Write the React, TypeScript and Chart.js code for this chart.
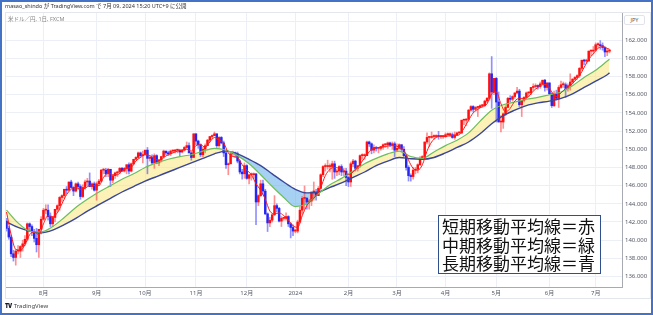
import { useEffect, useRef } from 'react';
import { Chart, registerables } from 'chart.js';

Chart.register(...registerables);

// ---------- data (USD/JPY daily, FXCM) ----------
const START_DATE = '2023-07-10';
const FIRST_OPEN = 142.1;

const closes = [
  141.3, 140.35, 138.5, 138.1, 138.8, 138.8, 139.3, 139.6, 140.1, 141.8, 141.5, 140.9, 140.2, 139.5, 141.2, 142.3,
  143.3, 143.3, 142.6, 141.8, 142.5, 143.4, 143.8, 144.7, 144.9, 145.6, 145.5, 146.4, 145.8, 145.4, 146.2, 145.9, 144.8, 145.8, 146.4, 146.5, 145.9, 146.2, 145.5,
  146.2, 146.5, 147.7, 147.7, 147.3, 147.8, 146.6, 147.1, 147.4, 147.5, 147.9, 147.6, 147.9, 148.3, 147.6, 148.4, 148.9, 149.1, 149.6, 149.3, 149.4,
  149.9, 149.0, 149.1, 148.5, 149.3, 148.5, 148.8, 149.2, 149.8, 149.6, 149.5, 149.8, 149.8, 149.9, 149.9, 149.7, 149.9, 150.2, 150.4, 149.6, 149.1, 151.7,
  150.9, 150.5, 149.4, 150.0, 150.4, 151.0, 151.4, 151.5, 151.7, 150.4, 151.3, 150.7, 149.6, 148.3, 148.4, 149.5, 149.6, 149.5, 148.7, 147.5, 147.3, 148.2,
  146.8, 147.2, 147.2, 147.3, 144.2, 144.9, 146.2, 145.4, 142.9, 141.9, 142.2, 142.8, 143.8, 143.5, 142.1, 142.4, 142.4, 142.6, 141.8, 141.4, 141.0,
  141.0, 142.0, 143.3, 144.6, 144.6, 144.2, 144.3, 145.3, 145.3, 144.9, 145.7, 147.2, 148.1, 148.1, 148.1, 148.1, 148.4, 147.5, 147.6, 148.1, 147.5, 147.6, 146.9,
  146.4, 148.4, 148.7, 147.9, 148.2, 149.3, 149.3, 149.3, 150.8, 150.6, 149.9, 150.2, 150.1, 150.1, 150.3, 150.5, 150.5, 150.7, 150.5, 150.6, 149.9,
  150.1, 150.5, 150.0, 149.3, 148.0, 147.1, 147.0, 147.7, 147.8, 148.3, 149.0, 149.2, 150.8, 151.3, 151.3, 151.4, 151.4, 151.5, 151.4, 151.4, 151.4,
  151.6, 151.6, 151.6, 151.3, 151.6, 151.8, 151.8, 153.2, 153.2, 153.3, 154.3, 154.7, 154.4, 154.6, 154.6, 154.8, 154.8, 155.3, 155.6, 158.3, 156.3, 157.8,
  155.2, 153.0, 153.0, 153.9, 154.6, 155.6, 155.5, 155.8, 156.2, 156.4, 154.9, 155.4, 155.7, 156.2, 156.2, 156.8, 156.9, 157.0, 156.9, 157.2, 157.6, 156.8, 157.3,
  156.1, 154.8, 156.1, 155.6, 156.8, 157.1, 157.1, 156.7, 157.0, 157.4, 157.7, 157.9, 158.1, 158.9, 159.8, 159.7, 159.7, 160.8, 160.8, 160.9,
  161.5, 161.5, 161.4, 161.2, 160.7, 160.8, 160.9,
];

const highs = [
  142.4, 141.5, 140.6, 138.9, 139.0, 139.4, 139.4, 140.0, 140.5, 141.9, 141.9, 141.7, 141.2, 141.3, 141.2, 142.6,
  143.5, 143.9, 143.9, 143.0, 142.6, 143.4, 143.9, 144.8, 145.0, 145.6, 145.9, 146.4, 146.6, 145.9, 146.3, 146.4, 146.1, 146.1, 146.6, 146.8, 147.4, 146.3, 146.4,
  146.4, 146.7, 147.8, 147.9, 147.9, 147.9, 147.8, 147.1, 147.5, 147.6, 148.0, 148.0, 148.0, 148.3, 148.5, 148.5, 148.9, 149.2, 149.7, 149.7, 149.8,
  149.9, 150.2, 149.3, 149.4, 149.5, 149.4, 148.9, 149.2, 149.9, 149.8, 149.8, 149.9, 149.9, 150.0, 150.0, 150.0, 150.0, 150.3, 150.8, 150.7, 149.7, 151.7,
  151.7, 151.0, 150.6, 150.2, 150.6, 151.1, 151.4, 151.6, 151.9, 151.7, 151.4, 151.4, 150.9, 149.7, 148.5, 149.6, 149.8, 149.7, 149.7, 148.8, 147.8, 148.5,
  148.3, 147.2, 147.4, 147.4, 147.3, 145.0, 146.6, 146.6, 145.6, 143.0, 142.5, 142.8, 144.9, 144.0, 143.6, 142.6, 142.5, 143.0, 142.7, 141.9, 141.7,
  141.2, 142.2, 143.7, 144.8, 145.97, 144.7, 144.5, 145.3, 146.4, 145.6, 145.9, 147.3, 148.2, 148.4, 148.8, 148.4, 148.7, 148.7, 147.8, 148.2, 148.3, 147.9, 147.9,
  147.0, 148.6, 148.9, 148.8, 148.2, 149.4, 149.5, 149.5, 150.9, 150.9, 150.7, 150.5, 150.3, 150.2, 150.3, 150.6, 150.6, 150.8, 150.8, 150.8, 150.8,
  150.6, 150.6, 150.5, 150.3, 149.4, 148.2, 147.3, 148.0, 148.0, 148.4, 149.2, 149.3, 150.8, 151.8, 151.4, 151.9, 151.6, 151.6, 151.97, 151.5, 151.5,
  151.8, 151.8, 151.8, 151.8, 151.9, 151.9, 151.9, 153.2, 153.3, 153.4, 154.4, 154.8, 154.8, 154.7, 154.7, 154.9, 154.9, 155.4, 155.7, 158.4, 160.2, 157.8,
  157.9, 156.3, 153.7, 154.0, 154.8, 155.7, 155.9, 155.9, 156.2, 156.8, 156.6, 155.4, 155.8, 156.3, 156.3, 156.8, 157.2, 157.2, 157.1, 157.4, 157.6, 157.7, 157.3,
  157.3, 156.2, 156.4, 156.5, 157.0, 157.5, 157.4, 157.3, 157.2, 158.3, 157.8, 158.0, 158.2, 159.0, 159.8, 159.9, 159.9, 160.8, 160.9, 161.3,
  161.7, 161.7, 161.95, 161.7, 161.3, 161.1, 161.0,
];

const lows = [
  141.0, 140.1, 138.2, 137.7, 137.25, 138.5, 138.1, 138.8, 139.4, 139.9, 141.0, 140.5, 139.8, 138.7, 138.1, 140.7,
  142.2, 142.9, 142.2, 141.5, 141.5, 142.0, 143.1, 143.3, 144.2, 144.6, 145.1, 145.4, 145.7, 144.9, 145.3, 145.6, 144.5, 144.7, 145.6, 146.0, 145.9, 145.6, 145.4,
  144.4, 146.0, 146.4, 147.3, 147.0, 147.0, 145.9, 146.3, 146.8, 147.0, 147.3, 147.6, 147.5, 147.3, 147.3, 147.5, 148.3, 148.8, 149.0, 149.1, 148.5,
  149.4, 147.3, 148.7, 148.4, 147.9, 148.4, 148.2, 148.6, 149.0, 149.4, 149.3, 149.3, 149.6, 149.6, 149.6, 149.3, 149.6, 149.8, 150.1, 149.6, 148.8, 149.1,
  150.5, 150.1, 149.2, 149.2, 149.6, 150.4, 150.8, 151.2, 151.5, 150.2, 150.2, 150.6, 149.2, 147.9, 147.2, 148.4, 149.3, 149.1, 148.5, 147.3, 146.7, 146.8,
  146.7, 146.2, 146.6, 146.8, 141.7, 143.8, 144.8, 145.0, 142.8, 140.95, 141.5, 142.0, 142.7, 143.1, 142.0, 141.5, 142.2, 142.2, 141.5, 140.25, 140.5,
  140.8, 140.8, 141.9, 142.9, 143.4, 143.4, 143.4, 143.8, 144.4, 144.4, 144.9, 145.6, 147.0, 147.6, 147.8, 147.5, 146.7, 146.8, 147.1, 147.2, 147.1, 147.1, 146.0,
  145.9, 145.9, 148.1, 147.6, 147.6, 148.0, 148.9, 148.9, 149.3, 150.3, 149.5, 149.6, 149.8, 149.6, 149.9, 150.0, 150.2, 150.1, 150.3, 150.0, 149.2,
  149.9, 150.0, 149.7, 149.2, 147.7, 146.5, 146.5, 146.7, 147.3, 147.4, 148.2, 148.9, 149.2, 150.6, 150.3, 151.2, 151.1, 151.3, 151.1, 151.2, 151.2,
  151.3, 151.5, 151.4, 151.2, 151.1, 151.6, 151.7, 151.7, 152.7, 152.6, 153.1, 154.2, 154.1, 154.2, 153.6, 154.6, 154.6, 154.7, 155.1, 155.4, 154.5, 156.0,
  153.0, 153.0, 151.9, 152.3, 153.7, 154.6, 155.2, 155.3, 155.6, 156.1, 154.7, 153.6, 155.2, 155.5, 155.8, 156.0, 156.5, 156.7, 156.6, 156.7, 157.1, 156.4, 156.5,
  156.0, 154.6, 154.7, 155.4, 154.6, 156.7, 156.8, 155.7, 156.4, 156.5, 157.2, 157.6, 157.7, 157.9, 158.7, 159.3, 159.4, 159.7, 160.3, 160.5,
  160.8, 161.2, 161.0, 160.9, 160.2, 160.3, 160.6,
];

const MA_STEP = 5;
const midMA = [
  143.3, 141.9, 141.0, 140.9, 141.5, 142.5, 143.6, 144.5, 145.3, 146.0, 146.7, 147.3, 148.0, 148.5, 148.9, 149.2, 149.4, 149.8,
  150.1, 149.9, 149.3, 148.4, 147.2, 145.9, 144.7, 143.7, 144.0, 145.1, 146.1, 146.8, 147.6, 148.4, 149.0, 149.5, 149.8, 149.2,
  149.0, 149.7, 150.4, 151.0, 151.8, 153.1, 154.3, 154.9, 155.2, 155.5, 155.7, 156.0, 156.3, 157.0, 157.9, 158.7, 159.7, 159.9,
];
const longMA = [
  142.0, 141.4, 141.0, 140.8, 141.1, 141.7, 142.4, 143.2, 143.9, 144.6, 145.3, 145.9, 146.5, 147.0, 147.5, 148.0, 148.5, 149.0,
  149.5, 149.8, 149.5, 148.9, 148.2, 147.3, 146.4, 145.6, 145.2, 145.3, 145.8, 146.3, 146.9, 147.5, 148.2, 148.7, 149.1, 148.95,
  148.9, 149.1, 149.6, 150.2, 150.8, 151.7, 152.8, 153.7, 154.3, 154.8, 155.1, 155.3, 155.6, 156.1, 156.8, 157.5, 158.2, 158.4,
];
const SHORT_STEP = 2;
const shortMA = [
  143.1, 140.6, 139.0, 138.9, 139.5, 140.6, 140.9, 140.6, 141.8, 142.7, 142.6, 143.0, 144.0, 145.0, 145.6, 145.8, 145.6, 145.7,
  146.0, 146.0, 146.0, 146.9, 147.4, 147.2, 147.2, 147.6, 147.9, 148.0, 148.7, 149.1, 149.4, 149.3, 149.0, 148.8, 149.1, 149.4,
  149.6, 149.8, 149.9, 150.0, 149.8, 150.4, 150.5, 150.2, 150.8, 151.3, 151.0, 150.7, 149.6, 149.2, 149.1, 148.3, 147.7, 147.2,
  146.2, 145.5, 144.5, 143.2, 142.9, 143.0, 142.7, 142.2, 141.6, 141.4, 142.7, 143.8, 144.4, 144.9, 145.8, 147.1, 147.8, 148.0,
  147.9, 147.7, 147.2, 147.5, 148.0, 148.7, 149.4, 150.0, 150.2, 150.2, 150.3, 150.4, 150.4, 150.2, 149.9, 148.8, 147.9, 147.7,
  148.3, 149.8, 150.8, 151.3, 151.4, 151.4, 151.5, 151.5, 151.6, 152.3, 153.2, 154.0, 154.4, 154.7, 155.0, 156.1, 156.3, 155.0,
  154.1, 154.5, 155.3, 155.6, 155.6, 155.8, 156.4, 156.8, 157.1, 157.1, 156.3, 155.8, 156.2, 156.7, 157.0, 157.5, 158.1, 159.0,
  159.9, 160.5, 161.1, 161.3, 161.1, 161.0,
];

const monthLabels = ['8月', '9月', '10月', '11月', '12月', '2024', '2月', '3月', '4月', '5月', '6月', '7月'];
const yTicks = [136, 138, 140, 142, 144, 146, 148, 150, 152, 154, 156, 158, 160, 162, 164];

const TITLE = 'masao_shindo が TradingView.com で 7月 09, 2024 15:20 UTC+9 に公開';
const SUBTITLE = '米ドル／円, 1日, FXCM';
const LEGEND_LINES = ['短期移動平均線＝赤', '中期移動平均線＝緑', '長期移動平均線＝青'];

// ---------- helpers ----------
function tradingDates(start: string, n: number): Date[] {
  const out: Date[] = [];
  const d = new Date(start + 'T00:00:00Z');
  while (out.length < n) {
    const wd = d.getUTCDay();
    if (wd !== 0 && wd !== 6) out.push(new Date(d.getTime()));
    d.setUTCDate(d.getUTCDate() + 1);
  }
  return out;
}

function sampled(values: number[], step: number, lastIndex: number) {
  return values.map((v, k) => ({ x: Math.min(k * step, lastIndex), y: v }));
}

const FONT = "'Noto Sans', 'Noto Sans CJK JP', sans-serif";

export default function App() {
  const canvasRef = useRef<HTMLCanvasElement | null>(null);

  useEffect(() => {
    const canvas = canvasRef.current;
    if (!canvas) return;
    const n = closes.length;
    const last = n - 1;
    const dates = tradingDates(START_DATE, n);
    const monthStarts: number[] = [];
    for (let i = 1; i < n; i++) {
      if (dates[i].getUTCMonth() !== dates[i - 1].getUTCMonth()) monthStarts.push(i);
    }
    const opens = closes.map((c, i) => (i === 0 ? FIRST_OPEN : closes[i - 1]));
    const isUp = closes.map((c, i) => c >= opens[i]);

    const wickData = closes.map((c, i) => ({
      x: i,
      y: [Math.min(lows[i], opens[i], c), Math.max(highs[i], opens[i], c)],
    }));
    const bodyData = closes.map((c, i) => ({ x: i, y: [opens[i], c] }));

    const chart = new Chart(canvas, {
      type: 'bar',
      data: {
        datasets: [
          {
            type: 'bar',
            label: 'wick',
            data: wickData as any,
            backgroundColor: isUp.map((u) => (u ? 'rgba(255,70,70,0.6)' : 'rgba(70,70,255,0.6)')),
            barThickness: 1,
            grouped: false,
            order: 4,
          },
          {
            type: 'bar',
            label: 'body',
            data: bodyData as any,
            backgroundColor: isUp.map((u) => (u ? '#FF0F0F' : '#2626F2')),
            barThickness: 1.8,
            minBarLength: 1,
            grouped: false,
            order: 3,
          },
          {
            type: 'line',
            label: 'mid',
            data: sampled(midMA, MA_STEP, last) as any,
            borderColor: '#6DBE5C',
            borderWidth: 1.2,
            pointRadius: 0,
            cubicInterpolationMode: 'monotone',
            fill: { target: 3, above: 'rgba(250,228,110,0.5)', below: 'rgba(95,172,232,0.55)' } as any,
            order: 1,
          },
          {
            type: 'line',
            label: 'long',
            data: sampled(longMA, MA_STEP, last) as any,
            borderColor: '#3A4697',
            borderWidth: 1.4,
            pointRadius: 0,
            cubicInterpolationMode: 'monotone',
            fill: false,
            order: 1,
          },
          {
            type: 'line',
            label: 'short',
            data: sampled(shortMA, SHORT_STEP, last) as any,
            borderColor: '#FF1A1A',
            borderWidth: 1,
            pointRadius: 0,
            cubicInterpolationMode: 'monotone',
            fill: false,
            order: 0,
          },
        ],
      },
      options: {
        animation: false,
        responsive: false,
        devicePixelRatio: 1,
        layout: { padding: { left: 5, top: 12, right: 0, bottom: 16 } },
        plugins: {
          legend: { display: false },
          tooltip: { enabled: false },
          filler: { drawTime: 'beforeDatasetsDraw', propagate: false } as any,
        },
        scales: {
          x: {
            type: 'linear',
            min: -0.65,
            max: 266.4,
            offset: false,
            afterBuildTicks: (s: any) => {
              s.ticks = monthStarts.map((v) => ({ value: v }));
            },
            afterFit: (s: any) => {
              s.height = 12;
            },
            ticks: {
              autoSkip: false,
              maxRotation: 0,
              padding: 3,
              color: '#555a66',
              font: { size: 6, family: FONT },
              callback: (_v: any, idx: number) => monthLabels[idx] ?? '',
            },
            grid: { color: '#ECF0F6', drawTicks: false, offset: false, lineWidth: 1 },
            border: { display: true, color: '#A7AAB3', width: 1 },
          },
          y: {
            type: 'linear',
            position: 'right',
            min: 134.85,
            max: 165.1,
            afterBuildTicks: (s: any) => {
              s.ticks = yTicks.map((v) => ({ value: v }));
            },
            afterFit: (s: any) => {
              s.width = 31;
            },
            ticks: {
              padding: 3,
              color: '#555a66',
              font: { size: 6, family: FONT },
              callback: (v: any) => (Number(v) >= 164 ? '' : Number(v).toFixed(3)),
            },
            grid: { color: '#ECF0F6', drawTicks: false, lineWidth: 1 },
            border: { display: true, color: '#A7AAB3', width: 1 },
          },
        },
      },
    });
    return () => chart.destroy();
  }, []);

  return (
    <div
      style={{
        position: 'absolute',
        left: 0,
        top: 0,
        width: 653,
        height: 315,
        background: '#ffffff',
        overflow: 'hidden',
        fontFamily: FONT,
      }}
    >
      <canvas ref={canvasRef} width={653} height={315} style={{ position: 'absolute', left: 0, top: 0, width: 653, height: 315 }} />
      {/* pane border */}
      <div
        style={{
          position: 'absolute',
          left: 5,
          top: 12,
          width: 646,
          height: 287,
          border: '1px solid #E3E6EC',
          boxSizing: 'border-box',
          pointerEvents: 'none',
        }}
      />
      <div style={{ position: 'absolute', left: 5, top: 2, fontSize: 5.5, lineHeight: '8px', color: '#333', whiteSpace: 'nowrap' }}>
        {TITLE}
      </div>
      <div style={{ position: 'absolute', left: 8, top: 15, fontSize: 5.5, lineHeight: '8px', color: '#888', whiteSpace: 'nowrap' }}>
        {SUBTITLE}
      </div>
      <div
        style={{
          position: 'absolute',
          left: 624,
          top: 15,
          width: 21,
          height: 10,
          border: '1px solid #E0E3EB',
          borderRadius: 2,
          boxSizing: 'border-box',
          background: '#fff',
          fontSize: 5.5,
          lineHeight: '8px',
          color: '#555',
          textAlign: 'center',
        }}
      >
        JPY
      </div>
      <div style={{ position: 'absolute', left: 5, top: 302, fontSize: 6, lineHeight: '8px', color: '#333', whiteSpace: 'nowrap' }}>
        <span style={{ fontWeight: 900, color: '#131722', letterSpacing: -0.5 }}>TV</span>
        <span style={{ marginLeft: 2, color: '#444' }}>TradingView</span>
      </div>
      {/* annotation box */}
      <div
        style={{
          position: 'absolute',
          left: 438,
          top: 215,
          width: 163,
          height: 59,
          border: '1.5px solid #2F4F8F',
          boxSizing: 'border-box',
          background: '#fff',
          padding: '1px 0 0 3px',
          fontFamily: "'Noto Sans CJK JP', sans-serif",
          fontSize: 17,
          lineHeight: '18.7px',
          color: '#111',
          whiteSpace: 'nowrap',
        }}
      >
        {LEGEND_LINES.map((t) => (
          <div key={t}>{t}</div>
        ))}
      </div>
      {/* outer frame */}
      <div
        style={{
          position: 'absolute',
          left: 0,
          top: 0,
          width: 653,
          height: 315,
          border: '2px solid #4472C4',
          boxSizing: 'border-box',
          pointerEvents: 'none',
        }}
      />
    </div>
  );
}
